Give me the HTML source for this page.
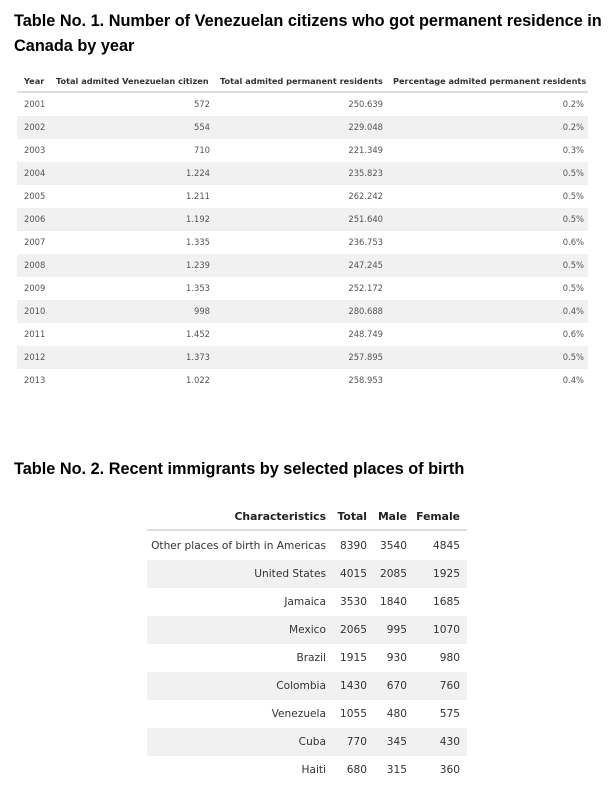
<!DOCTYPE html>
<html><head><meta charset="utf-8">
<style>
html,body{margin:0;padding:0;background:#fff;width:608px;height:797px;overflow:hidden;position:relative}
.title{position:absolute;left:14px;font:bold 16.3px/25px "Liberation Sans",Arial,sans-serif;color:#000;margin:0;white-space:nowrap}
.c{position:absolute;white-space:nowrap;font-family:"DejaVu Sans","Liberation Sans",sans-serif}
.t1{font-size:8.4px;color:#555}
.h1{font-size:8.2px;font-weight:bold;color:#333}
.t2{font-size:10.6px;color:#333}
.h2{font-size:10.8px;font-weight:bold;color:#222}
.stripe{position:absolute;background:#f1f1f1}
.line{position:absolute;height:2px;background:#ddd}
</style></head><body>
<div class="title" style="top:9px">Table No. 1. Number of Venezuelan citizens who got permanent residence in<br>Canada by year</div>
<div id="t1"></div>
<div class="title" style="top:457px">Table No. 2. Recent immigrants by selected places of birth</div>
<div id="t2"></div>
<script>
const years=["2001","2002","2003","2004","2005","2006","2007","2008","2009","2010","2011","2012","2013"];
const venez=["572","554","710","1.224","1.211","1.192","1.335","1.239","1.353","998","1.452","1.373","1.022"];
const totalRes=["250.639","229.048","221.349","235.823","262.242","251.640","236.753","247.245","252.172","280.688","248.749","257.895","258.953"];
const pct=["0.2%","0.2%","0.3%","0.5%","0.5%","0.5%","0.6%","0.5%","0.5%","0.4%","0.6%","0.5%","0.4%"];
const t1Headers=["Year","Total admited Venezuelan citizen","Total admited permanent residents","Percentage admited permanent residents"];

const places=["Other places of birth in Americas","United States","Jamaica","Mexico","Brazil","Colombia","Venezuela","Cuba","Haiti"];
const totals=[8390,4015,3530,2065,1915,1430,1055,770,680];
const males=[3540,2085,1840,995,930,670,480,345,315];
const females=[4845,1925,1685,1070,980,760,575,430,360];
const t2Headers=["Characteristics","Total","Male","Female"];

function cell(parent,text,cls,top,h,left,right,name){
  const d=document.createElement('div');
  d.className='c '+cls;
  d.textContent=text;
  d.style.top=top+'px';d.style.height=h+'px';d.style.lineHeight=h+'px';
  if(left!=null)d.style.left=left+'px';
  if(right!=null)d.style.right=(608-right)+'px';
  
  
  parent.appendChild(d);
}
const t1=document.getElementById('t1');
const t1Lefts=[24,56,220,393];
t1Headers.forEach((h,i)=>cell(t1,h,'h1',72,18,t1Lefts[i],null,'header-'+i));
let ln=document.createElement('div');ln.className='line';ln.style.cssText='left:17px;width:571px;top:91px';


t1.appendChild(ln);
const rh1=23,y1=93;
years.forEach((y,i)=>{
  const top=y1+i*rh1;
  if(i%2===1){const s=document.createElement('div');s.className='stripe';s.style.cssText=`left:17px;width:571px;top:${top}px;height:${rh1}px`;
    
    
    t1.appendChild(s);}
  cell(t1,y,'t1',top,rh1,24,null,'year-'+y);
  cell(t1,venez[i],'t1',top,rh1,null,210,'venezuelan-'+y);
  cell(t1,totalRes[i],'t1',top,rh1,null,383,'total-residents-'+y);
  cell(t1,pct[i],'t1',top,rh1,null,584,'percentage-'+y);
});
const t2=document.getElementById('t2');
const t2Rights=[326,367,407,460];
t2Headers.forEach((h,i)=>cell(t2,h,'h2',506,22,null,t2Rights[i],'header2-'+i));
ln=document.createElement('div');ln.className='line';ln.style.cssText='left:147px;width:320px;top:529px';


t2.appendChild(ln);
const rh2=28,y2=532;
places.forEach((p,i)=>{
  const top=y2+i*rh2;
  if(i%2===1){const s=document.createElement('div');s.className='stripe';s.style.cssText=`left:147px;width:320px;top:${top}px;height:${rh2}px`;
    
    
    t2.appendChild(s);}
  cell(t2,p,'t2',top,rh2,null,t2Rights[0],'place-'+i);
  cell(t2,String(totals[i]),'t2',top,rh2,null,t2Rights[1],'total-'+i);
  cell(t2,String(males[i]),'t2',top,rh2,null,t2Rights[2],'male-'+i);
  cell(t2,String(females[i]),'t2',top,rh2,null,t2Rights[3],'female-'+i);
});
</script>
</body></html>
